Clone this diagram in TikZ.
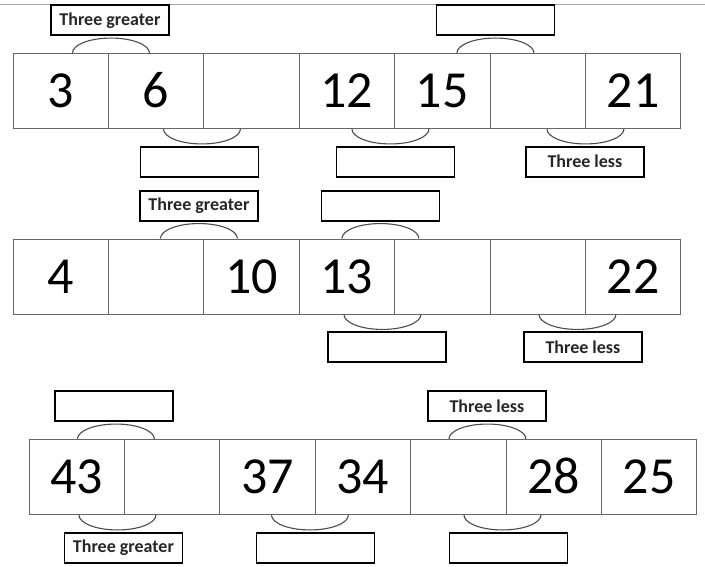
\documentclass[tikz,border=0pt]{standalone}
\usepackage{fontspec}
\setmainfont{Carlito}
\begin{document}
\begin{tikzpicture}[x=1pt,y=1pt,
  cella/.style={draw=black!60,line width=0.9pt,minimum width=95.4pt,
    minimum height=75pt,inner sep=0pt,text height=33pt,text depth=0pt,
    font=\fontsize{52}{60}\selectfont},
  etichetta/.style={draw=black,line width=1.6pt,minimum width=118pt,
    minimum height=30pt,inner sep=0pt,text=black!85,
    font=\bfseries\fontsize{18}{20}\selectfont},
  arco/.style={draw=black!70,line width=1.1pt}]
  \useasboundingbox (0,0) rectangle (705,-567);
  % Riga grigia sul bordo superiore.
  \draw[black!35,line width=1.2pt] (0,-4.5) -- (705,-4.5);
  % Tre file di sette caselle: y del centro / x del bordo sinistro / numeri.
  \foreach \r/\y/\x/\numeri in {
    1/-91/13/{3,6,{},12,15,{},21},
    2/-276.5/13/{4,{},10,13,{},{},22},
    3/-477/29/{43,{},37,34,{},28,25}}{
    \foreach \n [count=\c] in \numeri{
      \node[cella] (r\r c\c) at (\x+95.4*\c-47.7,\y) {\n};
    }
  }
  % Salti sopra: fila / casella a sinistra / spostamento arco / spostamento riquadro / testo.
  \foreach \r/\c/\da/\db/\testo in {
    1/1/2.1/1.1/Three greater, 1/5/5/5/{},
    2/2/-5.3/-5.3/Three greater, 2/4/-14.6/-14.6/{},
    3/1/-8.9/-10.9/{}, 3/5/-19/-19.5/Three less}{
    \draw[arco] ([xshift=\da-38.5]r\r c\c.north east)
      arc[start angle=180,end angle=0,x radius=38.5,y radius=15];
    \node[etichetta,anchor=south] (su\r\c) at ([xshift=\db,yshift=17]r\r c\c.north east) {\testo};
  }
  % Salti sotto, come sopra.
  \foreach \r/\c/\da/\db/\testo in {
    1/2/-2.3/-4.8/{}, 1/4/-4.6/0.4/{}, 1/6/-0.4/-0.9/Three less,
    2/4/-12.6/-8.1/{}, 2/6/-8.4/-2.9/Three less,
    3/1/-7.4/-1.4/Three greater, 3/3/-5.7/-0.2/{}, 3/5/-4/2/{}}{
    \draw[arco] ([xshift=\da-38.5]r\r c\c.south east)
      arc[start angle=180,end angle=360,x radius=38.5,y radius=15];
    \node[etichetta,anchor=north] (giu\r\c) at ([xshift=\db,yshift=-17]r\r c\c.south east) {\testo};
  }
\end{tikzpicture}
\end{document}
